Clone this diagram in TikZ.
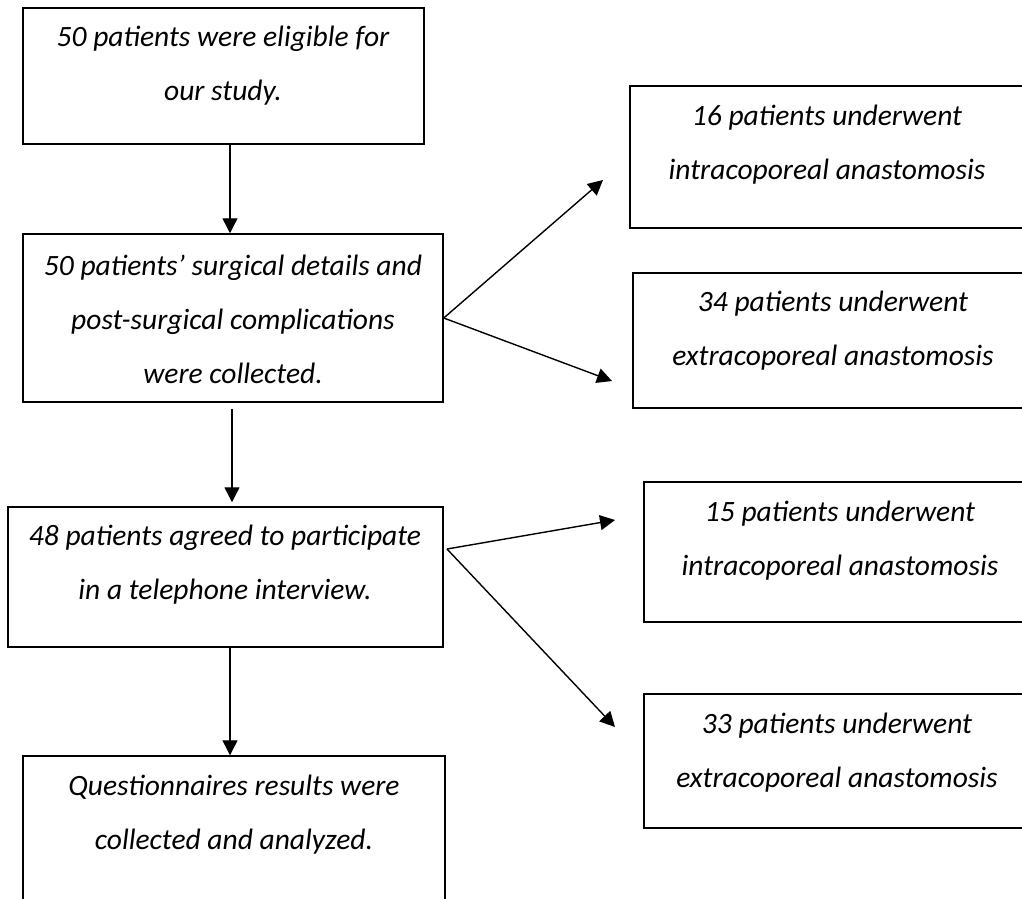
\documentclass[tikz,border=0pt]{standalone}
\usepackage{fontspec}
\setmainfont{Carlito}
\usetikzlibrary{arrows.meta}
\begin{document}
\begin{tikzpicture}[x=1pt, y=-1pt, >={Triangle[length=15pt,width=15pt]},
  box/.style={draw, line width=1.5pt, inner sep=0pt},
  txt/.style={align=center, inner sep=0pt, font=\itshape\fontsize{29.5}{54}\selectfont}]
\useasboundingbox (0,0) rectangle (1022,898);
\clip (0,0) rectangle (1022,898);
\node[box, minimum width=401, minimum height=136](eligible) at (223.5,76){};
\node[box, minimum width=420, minimum height=168](collected) at (233,318){};
\node[box, minimum width=435, minimum height=140](interview) at (225.5,577){};
\node[box, minimum width=422, minimum height=164](analyzed) at (234,838){};
\node[box, minimum width=410, minimum height=142](intraA) at (835,157){};
\node[box, minimum width=407, minimum height=135](extraA) at (836.5,340.5){};
\node[box, minimum width=396, minimum height=140](intraB) at (842,552){};
\node[box, minimum width=396, minimum height=134](extraB) at (842,761){};
\node[txt](eligibleTxt) at (223,66){50 patients were eligible for\\our study.};
\node[txt](collectedTxt) at (233,319.5){50 patients’ surgical details and\\post-surgical complications\\were collected.};
\node[txt](interviewTxt) at (225,564.5){48 patients agreed to participate\\in a telephone interview.};
\node[txt](analyzedTxt) at (234,814.5){Questionnaires results were\\collected and analyzed.};
\node[txt](intraATxt) at (827,144.5){16 patients underwent\\intracoporeal anastomosis};
\node[txt](extraATxt) at (833,331){34 patients underwent\\extracoporeal anastomosis};
\node[txt](intraBTxt) at (840,541){15 patients underwent\\intracoporeal anastomosis};
\node[txt](extraBTxt) at (837,752.5){33 patients underwent\\extracoporeal anastomosis};
\coordinate (split) at (447,549);
\coordinate (tipA) at (603,180);
\coordinate (tipB) at (612,381);
\coordinate (tipC) at (615,520);
\coordinate (tipD) at (615,727);
\draw[line width=1.4pt, ->](eligible.south) ++(6.5,0) -- ([xshift=-3pt]collected.north);
\draw[line width=1.4pt, ->]([xshift=-1pt,yshift=-6pt]collected.south) -- ([xshift=6.5pt,yshift=4pt]interview.north);
\draw[line width=1.4pt, ->]([xshift=4.5pt]interview.south) -- ([xshift=-4pt]analyzed.north);
\draw[line width=1.4pt, ->](collected.east) -- (tipA);
\draw[line width=1.4pt, ->](collected.east) -- (tipB);
\draw[line width=1.4pt, ->](split) -- (tipC);
\draw[line width=1.4pt, ->](split) -- (tipD);
\end{tikzpicture}
\end{document}
